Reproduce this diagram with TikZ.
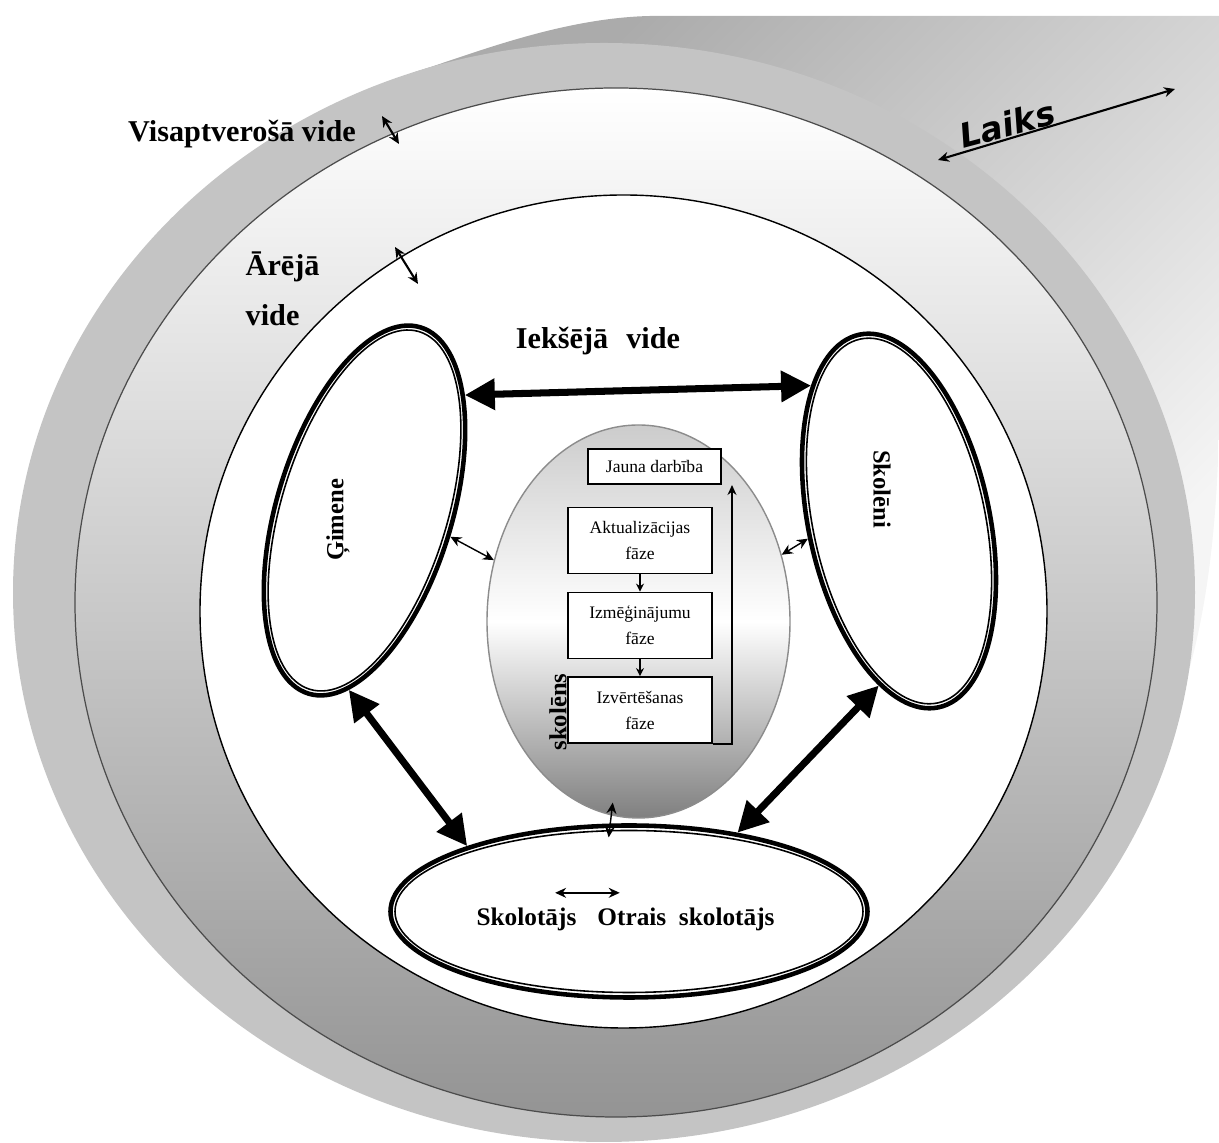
\documentclass[tikz,border=0pt]{standalone}
\usepackage{fontspec}
\setmainfont{Liberation Serif}
\newfontfamily\laiksfont{DejaVu Sans}
\usetikzlibrary{positioning}
\usetikzlibrary{arrows.meta}
\usetikzlibrary{shapes.geometric}

\begin{document}
\begin{tikzpicture}[x=0.1mm, y=-0.1mm,
        vide/.style={font=\fontsize{8.6}{14.2}\selectfont\bfseries, inner sep=0pt},
        oval/.style={ellipse, draw=black, line width=1.3pt, fill=white, inner sep=0pt},
        ovaltext/.style={font=\fontsize{7}{8}\selectfont\bfseries, inner sep=0pt},
        teacher/.style={font=\fontsize{7.2}{8}\selectfont\bfseries, inner sep=0pt},
        phase/.style={rectangle, draw=black, line width=0.5pt, fill=white, minimum width=14.4mm, minimum height=6.6mm, inner sep=0pt, align=center, font=\fontsize{5}{7.4}\selectfont},
        bigarrow/.style={{Triangle[length=3mm,width=3mm]}-{Triangle[length=3mm,width=3mm]}, line width=2pt},
        smallarrow/.style={{Stealth[length=1.1mm,width=1mm]}-{Stealth[length=1.1mm,width=1mm]}, line width=0.4pt},
        phasearrow/.style={-{Stealth[length=0.8mm,width=0.8mm]}, line width=0.4pt},
        ]
    \useasboundingbox (0,0) rectangle (1219,1143);

    % cylinder
    \path[top color=black!33, bottom color=black!4, shading angle=45]
        (415,72) .. controls (470,55) and (560,18) .. (650,16) -- (1219,16) -- (1219,430)
        .. controls (1216,560) and (1200,640) .. (1180,700) -- (604,592) -- cycle;
    \fill[black!23] (604,592.5) ellipse (591 and 549.5);
    \draw[black!70, line width=0.35pt, top color=white, bottom color=black!42] (616,602.5) ellipse (541 and 514.5);
    \draw[line width=0.4pt, fill=white] (623.5,611.5) ellipse (423.5 and 416.5);

    \node[vide] (visapt) at (242,134) {Visaptverošā vide};
    \node[vide, align=left, anchor=west] (areja) at (245,289) {Ārējā\\vide};
    \node[vide] (ieksa) at (598,341) {Iekšējā\hspace{0.6em}vide};
    \node[rotate=15, font={\laiksfont\fontsize{9.5}{11}\selectfont\bfseries\itshape}] (laiks) at (1007,124) {Laiks};

    \coordinate (va) at (382,116);
    \coordinate (vb) at (399,144);
    \coordinate (aa) at (395,247);
    \coordinate (ab) at (418,284);
    \coordinate (t0) at (938,160);
    \coordinate (t1) at (1175,89);
    \draw[smallarrow, line width=0.6pt] (va) -- (vb);
    \draw[smallarrow, line width=0.6pt] (aa) -- (ab);
    \draw[smallarrow, line width=0.6pt] (t0) -- (t1);

    % family, pupils, teachers
    \node[oval, rotate=-17, minimum width=17.5mm, minimum height=38.3mm] (gimene) at (364.5,510.5) {};
    \draw[line width=0.45pt, rotate around={-17:(gimene.center)}] (gimene.center) ellipse (83 and 187);
    \node[ovaltext, rotate=90] (gimene-t) at (338,520) {Ģimene};

    \node[oval, rotate=12, minimum width=18.1mm, minimum height=38.1mm] (skoleni) at (899,521) {};
    \draw[line width=0.45pt, rotate around={12:(skoleni.center)}] (skoleni.center) ellipse (86 and 186);
    \node[ovaltext, rotate=-90] (skoleni-t) at (882,489) {Skolēni};

    \node[oval, minimum width=47.7mm, minimum height=17.2mm] (skolotajs) at (629,911.5) {};
    \draw[line width=0.45pt] (skolotajs.center) ellipse (234 and 81);
    \node[teacher] (teach1) at (526.5,919) {Skolotājs};
    \node[teacher] (teach2) at (686,919) {Otrais\ \ skolotājs};
    \draw[smallarrow] ([xshift=-2.2mm, yshift=1.4mm]teach1.north east) -- ([xshift=2.3mm, yshift=1.4mm]teach2.north west);

    % pupil
    \node[ellipse, draw=black!45, line width=0.4pt, top color=black!20, bottom color=black!50, middle color=white, minimum width=30.3mm, minimum height=39.3mm] (skolens) at (638.5,621.5) {};
    \node[phase, minimum width=13.3mm, minimum height=3.5mm] (jauna) at (654.5,466.5) {Jauna darbība};
    \node[phase] (aktual) at (640,540.5) {Aktualizācijas\\fāze};
    \node[phase] (izmeg) at (640,625.5) {Izmēģinājumu\\fāze};
    \node[phase] (izvert) at (640,710) {Izvērtēšanas\\fāze};
    \draw[phasearrow] (aktual) -- (izmeg);
    \draw[phasearrow] (izmeg) -- (izvert);
    \coordinate (back) at (732,485);
    \draw[phasearrow, -{Stealth[length=1mm,width=0.9mm]}] (izvert.south east) -| (back);
    \node[ovaltext, rotate=90] (skolens-t) at (558,712) {skolēns};

    \draw[bigarrow] (gimene.66) -- (skoleni.111);
    \draw[bigarrow] (gimene.282) -- (skolotajs.158);
    \draw[bigarrow] (skoleni.251) -- (skolotajs.36);
    \draw[smallarrow] (gimene.0) -- (skolens.157);
    \draw[smallarrow] (skolens.25) -- (skoleni.179);
    \draw[smallarrow, shorten <=-1.3mm, shorten >=-1.4mm] (skolens.262) -- (skolotajs.102);
\end{tikzpicture}
\end{document}
